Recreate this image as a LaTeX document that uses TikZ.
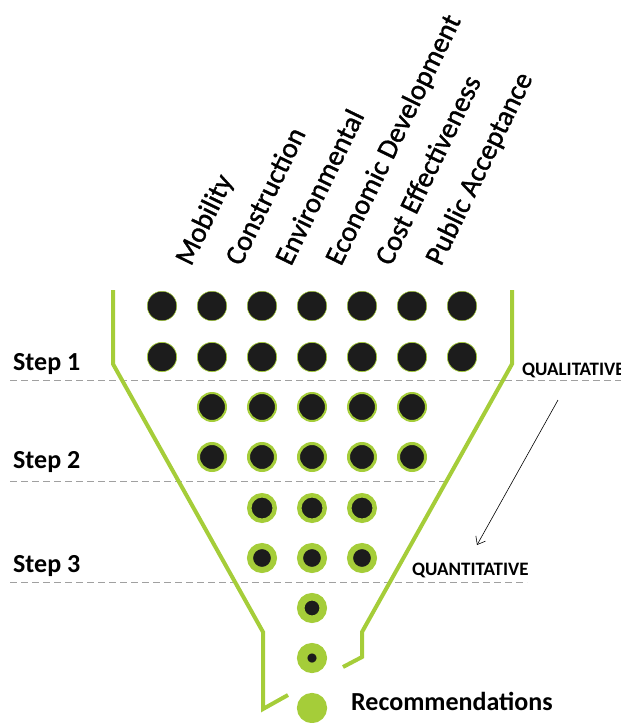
\documentclass[tikz,border=0pt]{standalone}
\usepackage{fontspec}
\setmainfont{Carlito}
\newfontfamily\critfont{Carlito}[FakeBold=1.2]
\usepackage{xcolor}
\usetikzlibrary{shapes, positioning, arrows.meta}

\definecolor{fgreen}{RGB}{165,205,57}
\definecolor{dotblack}{RGB}{28,28,28}
\definecolor{lgray}{RGB}{160,160,160}

\tikzset{
  dot/.style={circle, inner sep=0pt, fill=dotblack, draw=fgreen,
    minimum size={15pt+#1}, line width={15pt-#1}},
  crit/.style={rotate=64, anchor=base west, inner sep=0pt,
    font=\critfont\fontsize{28.5}{28.5}\selectfont},
  steplabel/.style={anchor=base west, inner sep=0pt,
    font=\fontsize{26}{26}\selectfont\bfseries},
  phase/.style={anchor=base west, inner sep=0pt,
    font=\fontsize{19}{19}\selectfont\bfseries},
  funnel/.style={fgreen, line width=4pt},
  stepline/.style={lgray, dash pattern=on 7pt off 4pt, line width=0.8pt}
}

\begin{document}
\begin{tikzpicture}[x=1pt, y=-1pt]
        \useasboundingbox (0,0) rectangle (621,723);

        % criteria
        \node[crit] (mob) at (191,267) {Mobility};
        \node[crit] (con) at (241,267) {Construction};
        \node[crit] (env) at (291,267) {Environmental};
        \node[crit] (eco) at (341,267) {Economic Development};
        \node[crit] (cost) at (391,267) {Cost Effectiveness};
        \node[crit] (pub) at (441,267) {Public Acceptance};

        % step lines
        \draw[stepline] (10,380) -- (621,380);
        \draw[stepline] (10,481) -- (445,481);
        \draw[stepline] (10,582) -- (527,582);

        \node[steplabel] (s1) at (13,370) {Step 1};
        \node[steplabel] (s2) at (13,468) {Step 2};
        \node[steplabel] (s3) at (13,572) {Step 3};

        % funnel
        \coordinate (l1) at (113,290);
        \coordinate (l2) at (113,364);
        \coordinate (l3) at (263,632);
        \coordinate (l4) at (263,709);
        \coordinate (l5) at (288,695);
        \coordinate (r1) at (512,290);
        \coordinate (r2) at (512,364);
        \coordinate (r3) at (362,632);
        \coordinate (r4) at (362,657);
        \coordinate (r5) at (343,667);
        \draw[funnel] (l1) -- (l2) -- (l3) -- (l4) -- (l5);
        \draw[funnel] (r1) -- (r2) -- (r3) -- (r4) -- (r5);

        % dots
        \node[dot=14.5pt] (a1) at (162,306) {};
        \node[dot=14.5pt] (a2) at (212,306) {};
        \node[dot=14.5pt] (a3) at (262,306) {};
        \node[dot=14.5pt] (a4) at (312,306) {};
        \node[dot=14.5pt] (a5) at (362,306) {};
        \node[dot=14.5pt] (a6) at (412,306) {};
        \node[dot=14.5pt] (a7) at (462,306) {};

        \node[dot=14.3pt] (b1) at (162,357) {};
        \node[dot=14.3pt] (b2) at (212,357) {};
        \node[dot=14.3pt] (b3) at (262,357) {};
        \node[dot=14.3pt] (b4) at (312,357) {};
        \node[dot=14.3pt] (b5) at (362,357) {};
        \node[dot=14.3pt] (b6) at (412,357) {};
        \node[dot=14.3pt] (b7) at (462,357) {};

        \node[dot=13pt] (c2) at (212,407) {};
        \node[dot=13pt] (c3) at (262,407) {};
        \node[dot=13pt] (c4) at (312,407) {};
        \node[dot=13pt] (c5) at (362,407) {};
        \node[dot=13pt] (c6) at (412,407) {};

        \node[dot=12pt] (d2) at (212,457) {};
        \node[dot=12pt] (d3) at (262,457) {};
        \node[dot=12pt] (d4) at (312,457) {};
        \node[dot=12pt] (d5) at (362,457) {};
        \node[dot=12pt] (d6) at (412,457) {};

        \node[dot=10.5pt] (e3) at (262,508) {};
        \node[dot=10.5pt] (e4) at (312,508) {};
        \node[dot=10.5pt] (e5) at (362,508) {};

        \node[dot=9pt] (f3) at (262,558) {};
        \node[dot=9pt] (f4) at (312,558) {};
        \node[dot=9pt] (f5) at (362,558) {};

        \node[dot=7.5pt] (g4) at (312,608) {};
        \node[dot=4.7pt] (h4) at (312,658) {};
        \node[dot=0pt] (rec) at (312,708) {};

        \node[phase] (qual) at (522,375) {QUALITATIVE};
        \node[phase] (quant) at (412,575) {QUANTITATIVE};
        \node[steplabel] (recl) at (351,710) {Recommendations};

        \coordinate (ar1) at (558,400);
        \coordinate (ar2) at (477,545);
        \draw[-{Straight Barb[length=7pt,width=11pt]}, line width=0.6pt] (ar1) -- (ar2);

      \end{tikzpicture}
\end{document}
